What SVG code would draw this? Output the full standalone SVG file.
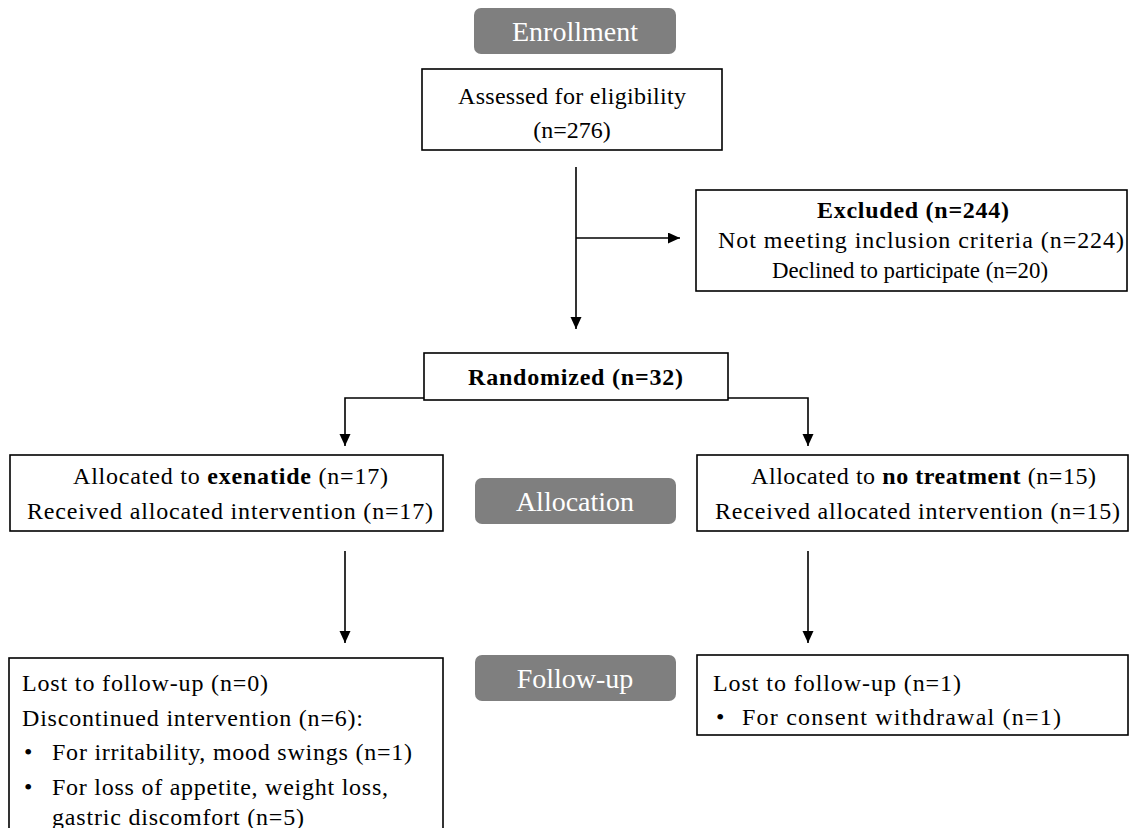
<svg xmlns="http://www.w3.org/2000/svg" width="1135" height="828" viewBox="0 0 1135 828">
<style>
.box{fill:#fff;stroke:#000;stroke-width:1.6}
.pill{fill:#7f7f7f}
.pt{font-family:"Liberation Serif","Times New Roman",serif;font-size:28px;fill:#fff;text-anchor:middle}
.t{font-family:"Liberation Serif","Times New Roman",serif;font-size:24px;fill:#000}
.c{text-anchor:middle}
.b{font-weight:bold}
.ln{fill:none;stroke:#000;stroke-width:1.6}
</style>
<defs>
<marker id="ah" markerWidth="14" markerHeight="12" refX="12" refY="5.5" orient="auto" markerUnits="userSpaceOnUse">
<path d="M0,0 L12,5.5 L0,11 Z" fill="#000"/>
</marker>
</defs>
<rect width="1135" height="828" fill="#fff"/>
<g id="connectors">
<path class="ln" d="M576,167 V329" marker-end="url(#ah)"/>
<path class="ln" d="M576,238 H680" marker-end="url(#ah)"/>
<path class="ln" d="M424,398 H345 V446" marker-end="url(#ah)"/>
<path class="ln" d="M728,398 H808 V446" marker-end="url(#ah)"/>
<path class="ln" d="M345,551 V643" marker-end="url(#ah)"/>
<path class="ln" d="M808,551 V643" marker-end="url(#ah)"/>
</g>
<g id="enrollment">
<rect class="pill" x="474" y="8" width="202" height="46" rx="7"/>
<text class="pt" x="575" y="41">Enrollment</text>
</g>
<g id="assessed">
<rect class="box" x="422" y="69" width="300" height="81"/>
<text class="t" x="458" y="104" textLength="228" lengthAdjust="spacing">Assessed for eligibility</text>
<text class="t c" x="572" y="138">(n=276)</text>
</g>
<g id="excluded">
<rect class="box" x="696" y="190" width="431" height="101"/>
<text class="t b" x="817" y="218" textLength="192" lengthAdjust="spacing">Excluded (n=244)</text>
<text class="t" x="718" y="248" textLength="406" lengthAdjust="spacing">Not meeting inclusion criteria (n=224)</text>
<text class="t" x="772" y="278" textLength="276" lengthAdjust="spacingAndGlyphs">Declined to participate (n=20)</text>
</g>
<g id="randomized">
<rect class="box" x="424" y="353" width="304" height="47"/>
<text class="t b" x="468" y="385" textLength="215" lengthAdjust="spacing">Randomized (n=32)</text>
</g>
<g id="alloc-exenatide">
<rect class="box" x="10" y="455" width="433" height="76"/>
<text class="t" x="73" y="484" textLength="315" lengthAdjust="spacing">Allocated to <tspan class="b">exenatide</tspan> (n=17)</text>
<text class="t" x="27" y="519" textLength="406" lengthAdjust="spacing">Received allocated intervention (n=17)</text>
</g>
<g id="allocation">
<rect class="pill" x="475" y="478" width="201" height="46" rx="7"/>
<text class="pt" x="575" y="511">Allocation</text>
</g>
<g id="alloc-none">
<rect class="box" x="697" y="455" width="431" height="76"/>
<text class="t" x="751" y="484" textLength="345" lengthAdjust="spacing">Allocated to <tspan class="b">no treatment</tspan> (n=15)</text>
<text class="t" x="715" y="519" textLength="405" lengthAdjust="spacing">Received allocated intervention (n=15)</text>
</g>
<g id="followup-exenatide">
<rect class="box" x="9" y="658" width="434" height="175"/>
<text class="t" x="22" y="691" textLength="246" lengthAdjust="spacing">Lost to follow-up (n=0)</text>
<text class="t" x="22" y="726" textLength="341" lengthAdjust="spacing">Discontinued intervention (n=6):</text>
<text class="t" x="24" y="760">•</text>
<text class="t" x="52" y="760" textLength="360" lengthAdjust="spacing">For irritability, mood swings (n=1)</text>
<text class="t" x="24" y="795">•</text>
<text class="t" x="52" y="795" textLength="336" lengthAdjust="spacing">For loss of appetite, weight loss,</text>
<text class="t" x="52" y="825" textLength="252" lengthAdjust="spacing">gastric discomfort (n=5)</text>
</g>
<g id="followup">
<rect class="pill" x="475" y="655" width="201" height="46" rx="7"/>
<text class="pt" x="575" y="688">Follow-up</text>
</g>
<g id="followup-none">
<rect class="box" x="697" y="655" width="431" height="80"/>
<text class="t" x="713" y="691" textLength="248" lengthAdjust="spacing">Lost to follow-up (n=1)</text>
<text class="t" x="716" y="725">•</text>
<text class="t" x="742" y="725" textLength="319" lengthAdjust="spacing">For consent withdrawal (n=1)</text>
</g>
</svg>
